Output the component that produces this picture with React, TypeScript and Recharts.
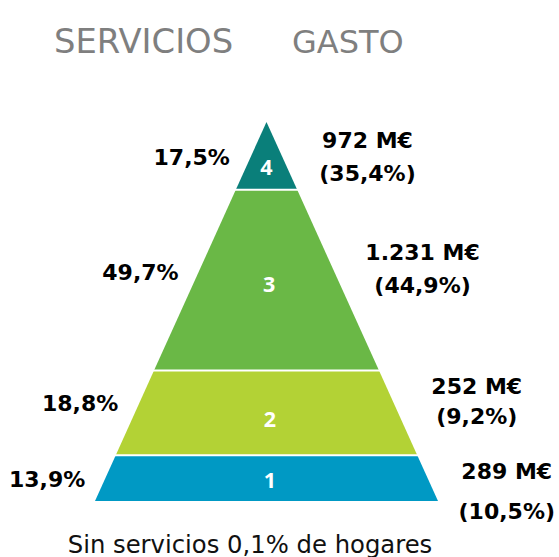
import React from 'react';
import { ComposedChart, Area, XAxis, YAxis, ReferenceLine, ReferenceDot } from 'recharts';

// Pyramid geometry (height from base 0..100, half-width 0..100)
const levels = [0, 12.1, 34.4, 82.1, 100];
const halfWidths = [100, 87.9, 65.6, 17.9, 0];

// Bands from bottom to top
const bandNames = ['1', '2', '3', '4'];
const serviciosShare = ['13,9%', '18,8%', '49,7%', '17,5%'];
const gastoValues = ['289 M€', '252 M€', '1.231 M€', '972 M€'];
const gastoShares = ['(10,5%)', '(9,2%)', '(44,9%)', '(35,4%)'];

const headers = ['SERVICIOS', 'GASTO'];
const footnote = 'Sin servicios 0,1% de hogares';

const bandColors = ['#0099c4', '#b3d235', '#6ab846', '#0a7f7a'];

const tableData = levels.map((level, i) => {
  const row: Record<string, any> = { level };
  bandNames.forEach((_, b) => {
    row['b' + b] = i === b || i === b + 1 ? [-halfWidths[i], halfWidths[i]] : null;
  });
  return row;
});

// label anchor points (in chart data coordinates)
const numberPos = [
  { x: 2, y: 5.5 },
  { x: 2, y: 21.5 },
  { x: 1.5, y: 57.1 },
  { x: 0, y: 88.0 },
];
const leftPos = [
  { x: -127.9, y: 5.8 },
  { x: -108.7, y: 25.9 },
  { x: -73.5, y: 60.4 },
  { x: -43.6, y: 90.6 },
];
const rightPos = [
  { x: 140.1, y1: 7.9, y2: -2.6 },
  { x: 122.6, y1: 30.3, y2: 22.4 },
  { x: 91.0, y1: 65.6, y2: 56.9 },
  { x: 58.9, y1: 95.1, y2: 86.4 },
];

const boldFont = { fontFamily: 'DejaVu Sans', fontWeight: 'bold', fontSize: 22, fill: '#000' };
const numFont = { fontFamily: 'Open Sans', fontWeight: 'bold', fontSize: 21.5, fill: '#ffffff' };

function dot(key: string, x: number, y: number, value: string, style: any) {
  return (
    <ReferenceDot
      key={key}
      x={x}
      y={y}
      r={1}
      fill="none"
      stroke="none"
      ifOverflow="visible"
      label={{ value, position: 'center', ...style }}
    />
  );
}

export default function App() {
  return (
    <div style={{ position: 'absolute', left: 0, top: 0, width: 559, height: 557, background: '#fff' }}>
      <ComposedChart
        width={559}
        height={557}
        data={tableData}
        layout="vertical"
        margin={{ top: 122, bottom: 56, left: 95, right: 121 }}
      >
        <XAxis type="number" domain={[-100, 100]} allowDataOverflow hide />
        <YAxis type="number" dataKey="level" domain={[0, 100]} allowDataOverflow reversed hide />
        {bandNames.map((name, b) => (
          <Area
            key={name}
            dataKey={'b' + b}
            type="linear"
            fill={bandColors[b]}
            fillOpacity={1}
            stroke="none"
            isAnimationActive={false}
            connectNulls={false}
            dot={false}
            activeDot={false}
          />
        ))}
        {levels.slice(1, -1).map((lv, i) => (
          <ReferenceLine key={'sep' + i} y={lv} stroke="#ffffff" strokeWidth={2} />
        ))}
        {bandNames.map((name, b) => dot('n' + b, numberPos[b].x, numberPos[b].y, name, numFont))}
        {serviciosShare.map((s, b) => dot('l' + b, leftPos[b].x, leftPos[b].y, s, boldFont))}
        {gastoValues.map((s, b) => dot('r1' + b, rightPos[b].x, rightPos[b].y1, s, boldFont))}
        {gastoShares.map((s, b) => dot('r2' + b, rightPos[b].x, rightPos[b].y2, s, boldFont))}
      </ComposedChart>
      <svg
        width={559}
        height={557}
        style={{ position: 'absolute', left: 0, top: 0, pointerEvents: 'none' }}
      >
        <text x={54} y={53.3} fontFamily="DejaVu Sans" fontSize={33.8} fill="#7f7f7f">
          {headers[0]}
        </text>
        <text x={292} y={53.3} fontFamily="DejaVu Sans" fontSize={32} fill="#7f7f7f">
          {headers[1]}
        </text>
        <text x={250} y={553} textAnchor="middle" fontFamily="DejaVu Sans" fontSize={24.3} fill="#111">
          {footnote}
        </text>
      </svg>
    </div>
  );
}
